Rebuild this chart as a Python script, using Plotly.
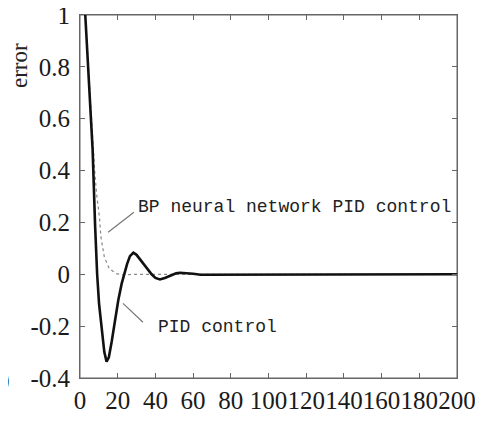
import plotly.graph_objects as go

# PID control error curve
pid_t = [2.8, 5.0, 6.7, 8.0, 8.8, 9.1, 10.1, 11.8, 12.9, 14.1, 15.3, 16.8, 18.6, 20.3, 22.1, 23.3,
         25.0, 26.5, 28.3, 30.0, 31.8, 33.6, 36.0, 38.0, 40.0, 42.4, 45.0, 48.6, 51.0, 53.0, 56.0,
         60.0, 64.0, 68.0, 72.0, 200.0]
pid_e = [1.0, 0.73, 0.48, 0.19, 0.015, 0.0, -0.113, -0.24, -0.30, -0.337, -0.32, -0.26, -0.177, -0.10, -0.036, 0.0,
         0.04, 0.07, 0.083, 0.075, 0.058, 0.041, 0.018, 0.0, -0.014, -0.02, -0.014, -0.002, 0.004, 0.006, 0.005,
         0.002, -0.002, -0.002, 0.0, 0.0]

# BP neural network PID control error curve
bp_t = [2.8, 5.0, 6.5, 7.8, 8.8, 10.3, 11.1, 12.9, 15.5, 19.1, 22.6, 30.0, 200.0]
bp_e = [1.0, 0.73, 0.52, 0.40, 0.31, 0.22, 0.144, 0.067, 0.022, 0.003, -0.002, 0.0, 0.0]

x_ticks = [0, 20, 40, 60, 80, 100, 120, 140, 160, 180, 200]
y_ticks = [-0.4, -0.2, 0, 0.2, 0.4, 0.6, 0.8, 1]
y_tick_text = ["-0.4", "-0.2", "0", "0.2", "0.4", "0.6", "0.8", "1"]

fig = go.Figure()
fig.add_trace(go.Scatter(x=bp_t, y=bp_e, mode="lines",
                         line=dict(color="#888888", width=1.2, dash="dot"), showlegend=False))
fig.add_trace(go.Scatter(x=pid_t, y=pid_e, mode="lines",
                         line=dict(color="#111111", width=2.6), showlegend=False))

# plot frame
fig.add_shape(type="rect", xref="paper", yref="paper", x0=0, y0=0, x1=1, y1=1,
              line=dict(color="#666666", width=1), layer="below")

# leader lines
fig.add_shape(type="line", x0=14.9, y0=0.162, x1=28.6, y1=0.239,
              line=dict(color="#777777", width=1.2))
fig.add_shape(type="line", x0=22.8, y0=-0.112, x1=33.4, y1=-0.185,
              line=dict(color="#777777", width=1.2))

mono = dict(family="'Liberation Mono', 'Courier New', monospace", size=18, color="#222222")
fig.add_annotation(x=29.7, y=0.258, text="BP neural network PID control", showarrow=False,
                   xanchor="left", yanchor="middle", font=mono)
fig.add_annotation(x=40.3, y=-0.204, text="PID control", showarrow=False,
                   xanchor="left", yanchor="middle", font=mono)

serif = "'Liberation Serif', 'Times New Roman', serif"
fig.add_annotation(xref="paper", yref="paper", x=(20 - 80) / 377, y=(378 - 66) / 363,
                   text="error", textangle=-90, showarrow=False,
                   xanchor="center", yanchor="middle",
                   font=dict(family=serif, size=23, color="#222222"))
fig.add_annotation(xref="paper", yref="paper", x=(12 - 80) / 377, y=(378 - 381) / 363,
                   text="0", showarrow=False, xanchor="right", yanchor="middle",
                   font=dict(family=serif, size=25, color="#222222"))

axis_common = dict(showgrid=False, zeroline=False, showline=True, linecolor="#666666", linewidth=1,
                   mirror="allticks", ticks="inside", ticklen=5, tickcolor="#666666",
                   tickfont=dict(family=serif, size=25, color="#1a1a1a"), automargin=False,
                   ticklabeloverflow="allow")
fig.update_xaxes(range=[0, 200], tickmode="array", tickvals=x_ticks, tickangle=0,
                 ticktext=[str(v) for v in x_ticks], ticklabelstandoff=0, **axis_common)
fig.update_yaxes(range=[-0.4, 1], tickmode="array", tickvals=y_ticks,
                 ticktext=y_tick_text, ticklabelstandoff=4, **axis_common)

# page body has an 8px margin: figure placed at (8, 8)
fig.update_layout(width=475, height=413, margin=dict(l=72, r=26, t=7, b=43),
                  paper_bgcolor="white", plot_bgcolor="white")
fig.write_html("out.html")
